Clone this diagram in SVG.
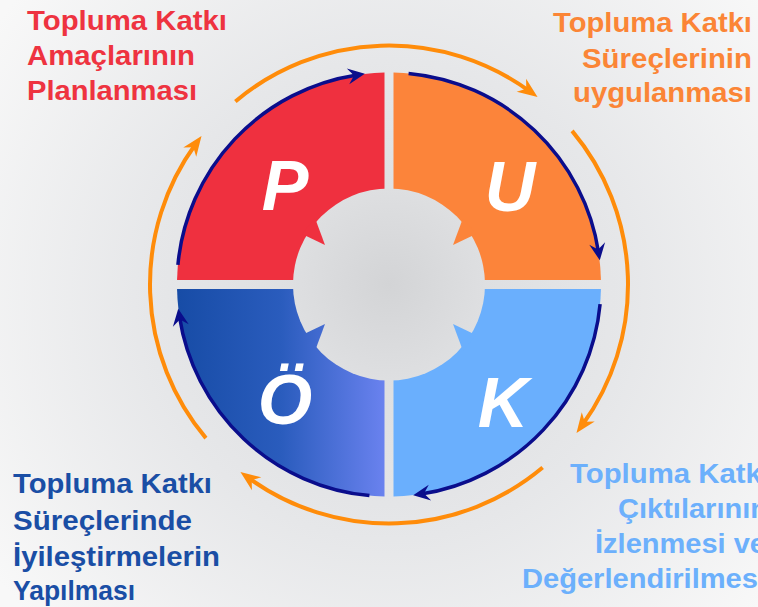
<svg xmlns="http://www.w3.org/2000/svg" width="758" height="607" viewBox="0 0 758 607">
  <defs>
    <radialGradient id="bg" cx="389" cy="300" r="480" gradientUnits="userSpaceOnUse">
      <stop offset="0" stop-color="#d9dadc"/>
      <stop offset="0.5" stop-color="#e6e7e9"/>
      <stop offset="1" stop-color="#f8f8f8"/>
    </radialGradient>
    <radialGradient id="hub" cx="389" cy="284.5" r="96" gradientUnits="userSpaceOnUse">
      <stop offset="0" stop-color="#d3d4d6"/>
      <stop offset="1" stop-color="#dedfe1"/>
    </radialGradient>
    <linearGradient id="blueGrad" x1="177" y1="0" x2="385" y2="0" gradientUnits="userSpaceOnUse">
      <stop offset="0" stop-color="#174ca6"/>
      <stop offset="0.5" stop-color="#2a5cbd"/>
      <stop offset="1" stop-color="#6a82ef"/>
    </linearGradient>
    <marker id="navyHead" markerUnits="userSpaceOnUse" markerWidth="40" markerHeight="40" refX="0" refY="0" viewBox="-20 -20 40 40" orient="auto" overflow="visible">
      <path d="M8,0 L-9,-8 L-3,0 L-9,8 Z" fill="#0a0d8c"/>
    </marker>
    <marker id="orangeHead" markerUnits="userSpaceOnUse" markerWidth="40" markerHeight="40" refX="0" refY="0" viewBox="-20 -20 40 40" orient="auto" overflow="visible">
      <path d="M10,0 L-10,-8 L-4,0 L-10,8 Z" fill="#ff8c0a"/>
    </marker>
    <style>
      .lbl { font-family: "Liberation Sans", Arial, sans-serif; font-weight: bold; font-size: 27.5px; }
      .big { font-family: "Liberation Sans", Arial, sans-serif; font-weight: bold; font-style: italic; font-size: 70px; fill: #ffffff; text-anchor: middle; }
      .navy { fill: none; stroke: #0a0d8c; stroke-width: 3.5; marker-end: url(#navyHead); }
      .orng { fill: none; stroke: #ff8c0a; stroke-width: 4; marker-end: url(#orangeHead); }
    </style>
  </defs>

  <rect x="0" y="0" width="758" height="607" fill="url(#bg)"/>

  <g id="node-P">
    <path d="M384.5,280 L177.05,280 A212,212 0 0 1 384.5,72.55 Z" fill="#ef303f"/>
  </g>
  <g id="node-U">
    <path d="M393.5,280 L393.5,72.55 A212,212 0 0 1 600.95,280 Z" fill="#fc843a"/>
  </g>
  <g id="node-K">
    <path d="M393.5,289 L600.95,289 A212,212 0 0 1 393.5,496.45 Z" fill="#6aaffd"/>
  </g>
  <g id="node-O">
    <path d="M384.5,289 L384.5,496.45 A212,212 0 0 1 177.05,289 Z" fill="url(#blueGrad)"/>
  </g>

  <g id="hub">
    <circle cx="389" cy="284.5" r="96" fill="url(#hub)"/>
    <polygon points="302,234 315,218 325,245" fill="#ef303f"/>
    <polygon points="476,234 463,218 453,245" fill="#fc843a"/>
    <polygon points="476,335 463,351 453,324" fill="#6aaffd"/>
    <polygon points="302,335 315,351 325,324" fill="url(#blueGrad)"/>
  </g>

  <g id="letters">
    <text class="big" x="285" y="210">P</text>
    <text class="big" x="510" y="211">U</text>
    <text class="big" x="285" y="424">Ö</text>
    <text class="big" x="503" y="427">K</text>
  </g>

  <g id="connectors">
    <path class="navy" d="M177.91,264.92 A212,212 0 0 1 356.93,74.94"/>
    <path class="navy" d="M408.58,73.41 A212,212 0 0 1 598.56,252.43"/>
    <path class="navy" d="M600.09,304.08 A212,212 0 0 1 421.07,494.06"/>
    <path class="navy" d="M369.42,495.59 A212,212 0 0 1 179.44,316.57"/>
    <path class="orng" d="M235.37,101.42 A239,239 0 0 1 529.48,91.14"/>
    <path class="orng" d="M572.08,130.87 A239,239 0 0 1 582.36,424.98"/>
    <path class="orng" d="M542.63,467.58 A239,239 0 0 1 248.52,477.86"/>
    <path class="orng" d="M205.92,438.13 A239,239 0 0 1 195.64,144.02"/>
  </g>

  <g id="label-P" class="lbl" fill="#ee3340">
    <text x="27" y="29.5" textLength="200" lengthAdjust="spacingAndGlyphs">Topluma Katkı</text>
    <text x="27" y="65" textLength="168" lengthAdjust="spacingAndGlyphs">Amaçlarının</text>
    <text x="27" y="100" textLength="170" lengthAdjust="spacingAndGlyphs">Planlanması</text>
  </g>
  <g id="label-U" class="lbl" fill="#fb8536">
    <text x="553" y="32" textLength="199" lengthAdjust="spacingAndGlyphs">Topluma Katkı</text>
    <text x="582" y="68" textLength="170" lengthAdjust="spacingAndGlyphs">Süreçlerinin</text>
    <text x="573" y="102" textLength="179" lengthAdjust="spacingAndGlyphs">uygulanması</text>
  </g>
  <g id="label-K" class="lbl" fill="#6cb0fc">
    <text x="570" y="483" textLength="200" lengthAdjust="spacingAndGlyphs">Topluma Katkı</text>
    <text x="618" y="518" textLength="150" lengthAdjust="spacingAndGlyphs">Çıktılarının</text>
    <text x="595" y="553" textLength="171" lengthAdjust="spacingAndGlyphs">İzlenmesi ve</text>
    <text x="522" y="588" textLength="244" lengthAdjust="spacingAndGlyphs">Değerlendirilmesi</text>
  </g>
  <g id="label-O" class="lbl" fill="#1a4ea5">
    <text x="13" y="493" textLength="199" lengthAdjust="spacingAndGlyphs">Topluma Katkı</text>
    <text x="13" y="530" textLength="179" lengthAdjust="spacingAndGlyphs">Süreçlerinde</text>
    <text x="13" y="566" textLength="207" lengthAdjust="spacingAndGlyphs">İyileştirmelerin</text>
    <text x="13" y="600" textLength="122" lengthAdjust="spacingAndGlyphs">Yapılması</text>
  </g>
</svg>
